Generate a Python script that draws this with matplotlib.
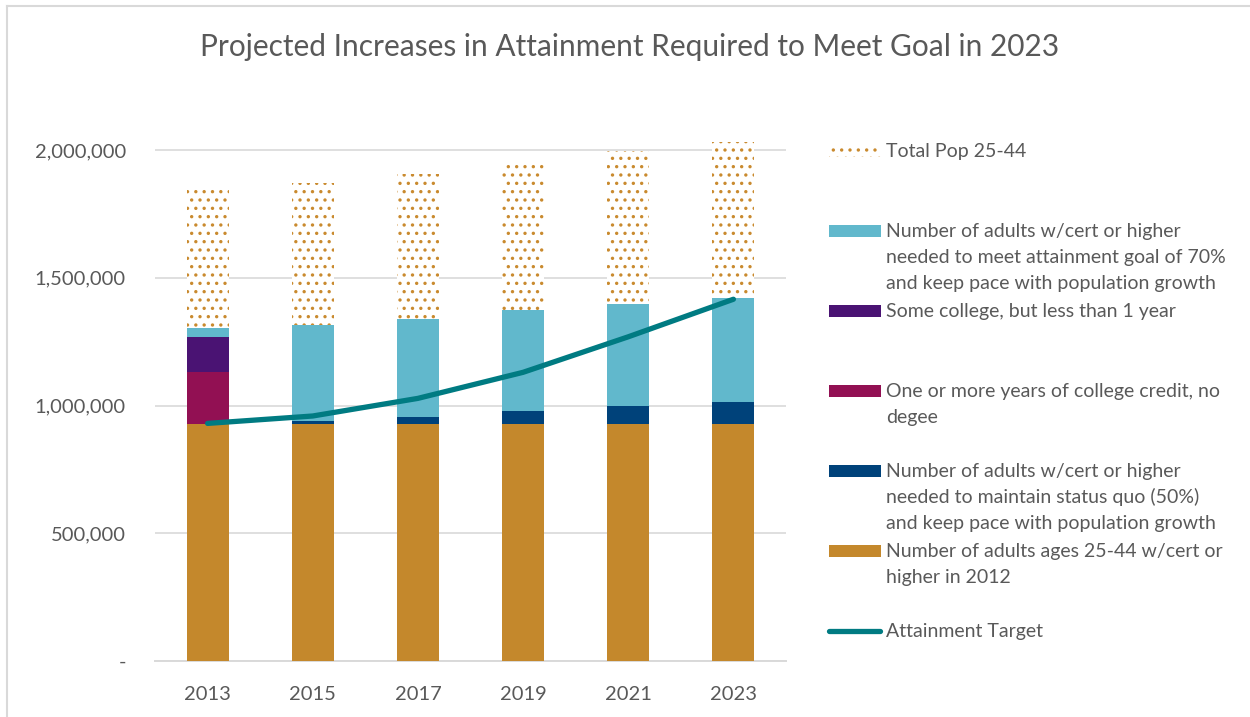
# -*- coding: utf-8 -*-
# Projected increases in attainment required to meet goal in 2023 (stacked bars + target line).

import numpy as np
import matplotlib
matplotlib.use("Agg")
from matplotlib import pyplot as plt
from matplotlib.patches import Rectangle
from matplotlib.lines import Line2D

# ==============================================================================
# DATA
# ==============================================================================
years = ["2013", "2015", "2017", "2019", "2021", "2023"]

base_2012 = [926000, 926000, 926000, 926000, 926000, 926000]
status_quo = [0, 13000, 30000, 52000, 72000, 88000]
one_plus_years = [205000, 0, 0, 0, 0, 0]
some_college = [137000, 0, 0, 0, 0, 0]
goal_70 = [34000, 376000, 381000, 394000, 400000, 408000]
total_pop = [1859000, 1872000, 1905000, 1954000, 1997000, 2033000]
attainment_target = [930000, 959000, 1028000, 1130000, 1269000, 1416000]

legend_labels = [
    "Total Pop 25-44",
    "Number of adults w/cert or higher\nneeded to meet attainment goal of 70%\nand keep pace with population growth",
    "Some college, but less than 1 year",
    "One or more years of college credit, no\ndegee",
    "Number of adults w/cert or higher\nneeded to maintain status quo (50%)\nand keep pace with population growth",
    "Number of adults ages 25-44 w/cert or\nhigher in 2012",
    "Attainment Target",
]

# ==============================================================================
# STYLE
# ==============================================================================
FONT = ["Lato", "DejaVu Sans"]
TEXT_COLOR = "#595959"
GRID_COLOR = "#d9d9d9"
C_BASE = "#c4882c"
C_QUO = "#00427a"
C_ONE = "#921053"
C_SOME = "#4a1373"
C_GOAL = "#61b8cc"
C_DOTS = "#c98a2e"
C_LINE = "#007b82"

plt.rcParams["font.family"] = FONT
plt.rcParams["hatch.linewidth"] = 1.2

W, H = 1250, 717
fig = plt.figure(figsize=(W / 100, H / 100), dpi=100)


def fx(px):
    return px / W


def fy(py):
    return 1 - py / H


# Plot area (pixel positions).
y_max = 2100000
ax = fig.add_axes([fx(155), fy(661), fx(786) - fx(155), (661 - 124.5) / H])

x = np.arange(len(years))
width = 0.4

# Stack the series.
bottom = np.zeros(len(years))
series = [
    (base_2012, C_BASE),
    (status_quo, C_QUO),
    (one_plus_years, C_ONE),
    (some_college, C_SOME),
    (goal_70, C_GOAL),
]
for values, color in series:
    ax.bar(x, values, width, bottom=bottom, color=color, linewidth=0, zorder=2)
    bottom = bottom + np.array(values)

# Remainder of the total population, drawn as a dotted pattern.
ax.bar(
    x, np.array(total_pop) - bottom, width, bottom=bottom,
    facecolor="white", edgecolor=C_DOTS, hatch="..", linewidth=0, zorder=2,
)

# Attainment target line.
ax.plot(x, attainment_target, color=C_LINE, linewidth=3.8,
        solid_capstyle="round", zorder=3)

# Axes.
ax.set_xlim(-0.5, len(years) - 0.5)
ax.set_ylim(0, y_max)
ax.set_yticks([0, 500000, 1000000, 1500000, 2000000])
ax.set_yticklabels(["-", "500,000", "1,000,000", "1,500,000", "2,000,000"])
ax.set_xticks(x)
ax.set_xticklabels(years)
ax.tick_params(axis="both", length=0, labelsize=14.5, colors=TEXT_COLOR)
ax.tick_params(axis="y", pad=21)
ax.tick_params(axis="x", pad=18)
ax.yaxis.grid(True, color=GRID_COLOR, linewidth=1.2, zorder=0)
ax.set_axisbelow(True)
for side in ["top", "right", "left"]:
    ax.spines[side].set_visible(False)
ax.spines["bottom"].set_color(GRID_COLOR)
ax.spines["bottom"].set_linewidth(1.4)
ax.spines["bottom"].set_zorder(1)

# Title.
fig.text(fx(630), fy(47), "Projected Increases in Attainment Required to Meet Goal in 2023",
         ha="center", va="center", fontsize=21.5, color=TEXT_COLOR)

# Legend, drawn by hand to keep Excel's layout.
entry_y0 = 151
entry_step = 80
line_step = 26
handle_styles = ["dots", C_GOAL, C_SOME, C_ONE, C_QUO, C_BASE, "line"]
for i, (label, style) in enumerate(zip(legend_labels, handle_styles)):
    yc = entry_y0 + i * entry_step
    if style == "line":
        fig.add_artist(Line2D([fx(829), fx(880)], [fy(yc), fy(yc)], color=C_LINE,
                              linewidth=3.8, solid_capstyle="round"))
    elif style == "dots":
        fig.add_artist(Rectangle((fx(829), fy(yc + 6)), fx(52), 12 / H, facecolor="white",
                                 edgecolor=C_DOTS, hatch="..", linewidth=0))
    else:
        fig.add_artist(Rectangle((fx(829), fy(yc + 6)), fx(52), 12 / H,
                                 facecolor=style, linewidth=0))
    for j, line in enumerate(label.split("\n")):
        fig.text(fx(886), fy(yc + j * line_step), line, ha="left", va="center",
                 fontsize=14, color=TEXT_COLOR)

# Chart border.
fig.add_artist(Line2D([fx(7), fx(7)], [fy(6), fy(H + 5)], color=GRID_COLOR, linewidth=1.5))
fig.add_artist(Line2D([fx(7), fx(W + 5)], [fy(6), fy(6)], color=GRID_COLOR, linewidth=1.5))

fig.savefig("out.png", dpi=100)
